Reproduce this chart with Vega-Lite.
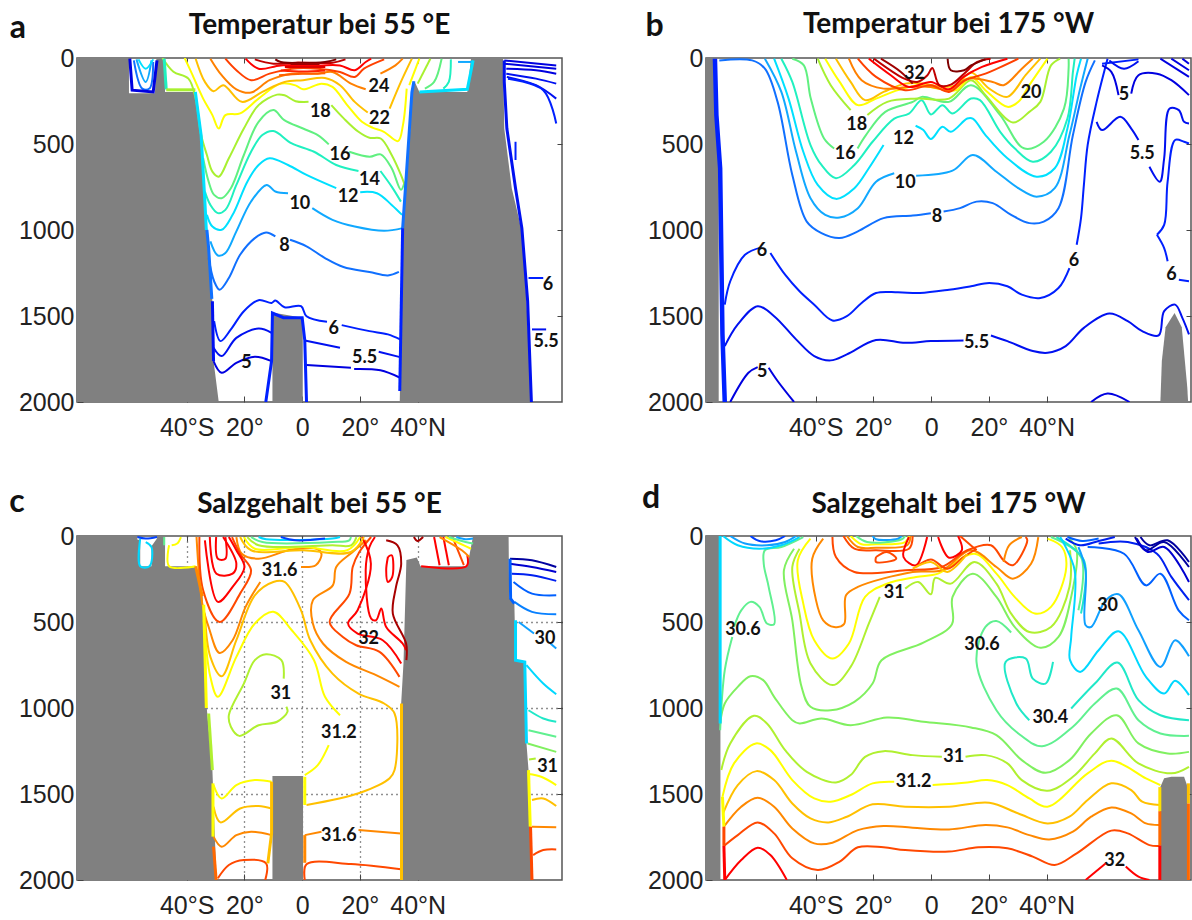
{"$schema":"https://vega.github.io/schema/vega-lite/v6.json","background":"white","padding":{"left":8,"top":9,"right":0,"bottom":0},"columns":2,"spacing":{"row":40,"column":77},"resolve":{"scale":{"color":"independent"}},"config":{"view":{"stroke":"#555","strokeWidth":1.5},"axis":{"labelFont":"Liberation Sans","labelFontSize":25,"labelColor":"#222","domain":false,"tickColor":"#444","title":null,"grid":false,"zindex":1},"title":{"font":"Lato","fontSize":28,"fontWeight":"bold","color":"#111","anchor":"middle","offset":-28},"text":{"font":"Lato"}},
"datasets":{
"g1":[{"s":"1","x":-78,"y":0},{"s":"1","x":-60,"y":0},{"s":"1","x":-60,"y":205},{"s":"1","x":-51,"y":205},{"s":"1","x":-50.5,"y":0},{"s":"1","x":-47.5,"y":0},{"s":"1","x":-47.5,"y":197},{"s":"1","x":-37,"y":197},{"s":"1","x":-35,"y":450},{"s":"1","x":-33.7,"y":835},{"s":"1","x":-32.4,"y":1105},{"s":"1","x":-31.1,"y":1414},{"s":"1","x":-30.7,"y":1762},{"s":"1","x":-28.9,"y":2000},{"s":"2","x":-10.3,"y":2000},{"s":"2","x":-10.3,"y":1480},{"s":"2","x":0.2,"y":1510},{"s":"2","x":0.2,"y":2000},{"s":"3","x":33.8,"y":2000},{"s":"3","x":34.8,"y":1028},{"s":"3","x":36.1,"y":700},{"s":"3","x":37.3,"y":450},{"s":"3","x":38.3,"y":150},{"s":"3","x":38.9,"y":135},{"s":"3","x":40.6,"y":197},{"s":"3","x":57.2,"y":197},{"s":"3","x":58.5,"y":0},{"s":"3","x":69.6,"y":0},{"s":"3","x":70,"y":410},{"s":"3","x":72.6,"y":757},{"s":"3","x":74.5,"y":892},{"s":"3","x":76.4,"y":1028},{"s":"3","x":77.7,"y":1414},{"s":"3","x":79.4,"y":2000}],
"g2":[{"s":"1","x":-78,"y":0},{"s":"1","x":-75,"y":0},{"s":"1","x":-74.4,"y":330},{"s":"1","x":-73.6,"y":500},{"s":"1","x":-73.6,"y":2000},{"s":"2","x":79.4,"y":2000},{"s":"2","x":79.9,"y":1762},{"s":"2","x":81.2,"y":1565},{"s":"2","x":84.3,"y":1483},{"s":"2","x":86.8,"y":1565},{"s":"2","x":88.7,"y":1913},{"s":"2","x":89,"y":2000}],
"g3":[{"s":"1","x":-78,"y":0},{"s":"1","x":-57.1,"y":0},{"s":"1","x":-57.1,"y":20},{"s":"1","x":-56.1,"y":25},{"s":"1","x":-56.1,"y":176},{"s":"1","x":-52.2,"y":176},{"s":"1","x":-52.2,"y":60},{"s":"1","x":-50.3,"y":15},{"s":"1","x":-50.3,"y":0},{"s":"1","x":-47.5,"y":0},{"s":"1","x":-47.5,"y":176},{"s":"1","x":-36.9,"y":176},{"s":"1","x":-34.5,"y":350},{"s":"1","x":-34,"y":490},{"s":"1","x":-33,"y":1010},{"s":"1","x":-31.1,"y":1360},{"s":"1","x":-29.7,"y":2000},{"s":"2","x":-10.3,"y":2000},{"s":"2","x":-10.3,"y":1396},{"s":"2","x":0.3,"y":1396},{"s":"2","x":0.3,"y":2000},{"s":"3","x":34.2,"y":2000},{"s":"3","x":34.2,"y":1000},{"s":"3","x":35.1,"y":737},{"s":"3","x":36.1,"y":140},{"s":"3","x":39.7,"y":125},{"s":"3","x":41,"y":176},{"s":"3","x":57.2,"y":176},{"s":"3","x":59.2,"y":0},{"s":"3","x":71.5,"y":0},{"s":"3","x":71.7,"y":360},{"s":"3","x":73.5,"y":393},{"s":"3","x":73.9,"y":722},{"s":"3","x":77.1,"y":732},{"s":"3","x":77.7,"y":1206},{"s":"3","x":78.4,"y":1361},{"s":"3","x":79.6,"y":2000}],
"g4":[{"s":"1","x":-78,"y":0},{"s":"1","x":-73,"y":0},{"s":"1","x":-73,"y":2000},{"s":"2","x":79.4,"y":2000},{"s":"2","x":79.4,"y":1458},{"s":"2","x":80.7,"y":1409},{"s":"2","x":83.2,"y":1400},{"s":"2","x":87.6,"y":1400},{"s":"2","x":88.6,"y":1448},{"s":"2","x":88.9,"y":2000}],
"l1":[
{"s":"8a","v":8,"x":-32.4,"y":1163},{"s":"8a","v":8,"x":-30.5,"y":1298},{"s":"8a","v":8,"x":-28.6,"y":1347},{"s":"8a","v":8,"x":-25.4,"y":1279},{"s":"8a","v":8,"x":-21.5,"y":1144},{"s":"8a","v":8,"x":-16.4,"y":1047},{"s":"8a","v":8,"x":-12.5,"y":1014},{"s":"8a","v":8,"x":-9.3,"y":1037},
{"s":"8b","v":8,"x":-4.2,"y":1057},{"s":"8b","v":8,"x":1.5,"y":1095},{"s":"8b","v":8,"x":7.9,"y":1163},{"s":"8b","v":8,"x":14.3,"y":1215},{"s":"8b","v":8,"x":23.3,"y":1244},{"s":"8b","v":8,"x":29.7,"y":1264},{"s":"8b","v":8,"x":33.5,"y":1244},
{"s":"10a","v":10,"x":-31.8,"y":1066},{"s":"10a","v":10,"x":-29.2,"y":1148},{"s":"10a","v":10,"x":-26.6,"y":1134},{"s":"10a","v":10,"x":-22.8,"y":1008},{"s":"10a","v":10,"x":-17.7,"y":834},{"s":"10a","v":10,"x":-12.3,"y":738},{"s":"10a","v":10,"x":-9.3,"y":776},{"s":"10a","v":10,"x":-4.9,"y":786},
{"s":"10b","v":10,"x":3.5,"y":873},{"s":"10b","v":10,"x":10.5,"y":941},{"s":"10b","v":10,"x":18.2,"y":980},{"s":"10b","v":10,"x":28.4,"y":1005},{"s":"10b","v":10,"x":34.8,"y":989},
{"s":"12a","v":12,"x":-33,"y":912},{"s":"12a","v":12,"x":-31.1,"y":980},{"s":"12a","v":12,"x":-27.9,"y":999},{"s":"12a","v":12,"x":-24.1,"y":912},{"s":"12a","v":12,"x":-19,"y":719},{"s":"12a","v":12,"x":-15.1,"y":622},{"s":"12a","v":12,"x":-11.3,"y":583},{"s":"12a","v":12,"x":-4.9,"y":622},{"s":"12a","v":12,"x":1.5,"y":680},{"s":"12a","v":12,"x":11.8,"y":757},
{"s":"12b","v":12,"x":20.1,"y":780},{"s":"12b","v":12,"x":25.9,"y":786},{"s":"12b","v":12,"x":31,"y":854},{"s":"12b","v":12,"x":34.6,"y":912},
{"s":"14a","v":14,"x":-33.7,"y":777},{"s":"14a","v":14,"x":-31.8,"y":854},{"s":"14a","v":14,"x":-29.2,"y":902},{"s":"14a","v":14,"x":-26.6,"y":883},{"s":"14a","v":14,"x":-22.8,"y":738},{"s":"14a","v":14,"x":-17.7,"y":545},{"s":"14a","v":14,"x":-13.8,"y":448},{"s":"14a","v":14,"x":-10,"y":425},{"s":"14a","v":14,"x":-3.6,"y":497},{"s":"14a","v":14,"x":4.1,"y":545},{"s":"14a","v":14,"x":11.8,"y":622},{"s":"14a","v":14,"x":19.5,"y":657},
{"s":"14b","v":14,"x":27.1,"y":657},{"s":"14b","v":14,"x":31,"y":748},{"s":"14b","v":14,"x":34.2,"y":835},
{"s":"16a","v":16,"x":-34.3,"y":583},{"s":"16a","v":16,"x":-32.4,"y":719},{"s":"16a","v":16,"x":-30.5,"y":796},{"s":"16a","v":16,"x":-27.9,"y":815},{"s":"16a","v":16,"x":-24.7,"y":757},{"s":"16a","v":16,"x":-20.2,"y":564},{"s":"16a","v":16,"x":-15.1,"y":371},{"s":"16a","v":16,"x":-10,"y":303},{"s":"16a","v":16,"x":-6.2,"y":361},{"s":"16a","v":16,"x":0.3,"y":410},{"s":"16a","v":16,"x":5.4,"y":448},{"s":"16a","v":16,"x":9.2,"y":502},
{"s":"16b","v":16,"x":16.3,"y":545},{"s":"16b","v":16,"x":23.4,"y":574},{"s":"16b","v":16,"x":27.2,"y":560},{"s":"16b","v":16,"x":31,"y":641},{"s":"16b","v":16,"x":34.2,"y":766},{"s":"16b","v":16,"x":35.5,"y":719},
{"s":"18a","v":18,"x":-48.4,"y":0},{"s":"18a","v":18,"x":-44.6,"y":80},{"s":"18a","v":18,"x":-39.4,"y":120},{"s":"18a","v":18,"x":-36.9,"y":236},{"s":"18a","v":18,"x":-35,"y":448},{"s":"18a","v":18,"x":-33,"y":564},{"s":"18a","v":18,"x":-31.1,"y":661},{"s":"18a","v":18,"x":-28.9,"y":690},{"s":"18a","v":18,"x":-25.4,"y":583},{"s":"18a","v":18,"x":-20.2,"y":410},{"s":"18a","v":18,"x":-15.1,"y":274},{"s":"18a","v":18,"x":-8.7,"y":213},{"s":"18a","v":18,"x":-6.1,"y":217},{"s":"18a","v":18,"x":-2.3,"y":251},{"s":"18a","v":18,"x":2.2,"y":255},
{"s":"18b","v":18,"x":10.1,"y":274},{"s":"18b","v":18,"x":14.4,"y":351},{"s":"18b","v":18,"x":19.5,"y":429},{"s":"18b","v":18,"x":23.3,"y":464},{"s":"18b","v":18,"x":27.2,"y":468},{"s":"18b","v":18,"x":31,"y":564},{"s":"18b","v":18,"x":34.2,"y":680},{"s":"18b","v":18,"x":35.9,"y":757},
{"s":"20a","v":20,"x":-40.7,"y":0},{"s":"20a","v":20,"x":-38.2,"y":91},{"s":"20a","v":20,"x":-34.3,"y":236},{"s":"20a","v":20,"x":-31.1,"y":332},{"s":"20a","v":20,"x":-28.9,"y":410},{"s":"20a","v":20,"x":-26.6,"y":332},{"s":"20a","v":20,"x":-21.5,"y":322},{"s":"20a","v":20,"x":-15.1,"y":236},{"s":"20a","v":20,"x":-7.4,"y":149},{"s":"20a","v":20,"x":-2.3,"y":159},{"s":"20a","v":20,"x":0.3,"y":182},{"s":"20a","v":20,"x":6.7,"y":149},{"s":"20a","v":20,"x":10.5,"y":168},{"s":"20a","v":20,"x":15.6,"y":274},{"s":"20a","v":20,"x":20.7,"y":371},{"s":"20a","v":20,"x":24.5,"y":406},{"s":"20a","v":20,"x":28.3,"y":429},{"s":"20a","v":20,"x":33.2,"y":483},{"s":"20a","v":20,"x":34.9,"y":390},{"s":"20a","v":20,"x":36.2,"y":178},
{"s":"22a","v":22,"x":-36.9,"y":4},{"s":"22a","v":22,"x":-33.7,"y":139},{"s":"22a","v":22,"x":-30.7,"y":193},{"s":"22a","v":22,"x":-27.3,"y":158},{"s":"22a","v":22,"x":-20.9,"y":255},{"s":"22a","v":22,"x":-13.8,"y":197},{"s":"22a","v":22,"x":-6.1,"y":139},{"s":"22a","v":22,"x":0.3,"y":129},{"s":"22a","v":22,"x":7.9,"y":116},{"s":"22a","v":22,"x":13.1,"y":158},{"s":"22a","v":22,"x":18.2,"y":255},{"s":"22a","v":22,"x":22.7,"y":317},
{"s":"22b","v":22,"x":30.3,"y":294},{"s":"22b","v":22,"x":34.2,"y":139},{"s":"22b","v":22,"x":38,"y":4},
{"s":"24a","v":24,"x":-31.8,"y":4},{"s":"24a","v":24,"x":-27.9,"y":100},{"s":"24a","v":24,"x":-22.8,"y":182},{"s":"24a","v":24,"x":-17.7,"y":201},{"s":"24a","v":24,"x":-11.3,"y":129},{"s":"24a","v":24,"x":-3.6,"y":91},{"s":"24a","v":24,"x":5.4,"y":91},{"s":"24a","v":24,"x":10.5,"y":81},{"s":"24a","v":24,"x":16.9,"y":149},{"s":"24a","v":24,"x":22,"y":182},
{"s":"24b","v":24,"x":27.1,"y":91},{"s":"24b","v":24,"x":32.3,"y":43},{"s":"24b","v":24,"x":34.8,"y":4},
{"s":"26a","v":26,"x":-26.6,"y":4},{"s":"26a","v":26,"x":-22.8,"y":71},{"s":"26a","v":26,"x":-17.7,"y":129},{"s":"26a","v":26,"x":-11.3,"y":91},{"s":"26a","v":26,"x":-3.6,"y":62},{"s":"26a","v":26,"x":5.4,"y":62},{"s":"26a","v":26,"x":13.1,"y":81},{"s":"26a","v":26,"x":18.2,"y":110},{"s":"26a","v":26,"x":21.4,"y":62},{"s":"26a","v":26,"x":28.4,"y":8},
{"s":"28a","v":28,"x":-19.6,"y":4},{"s":"28a","v":28,"x":-15.1,"y":62},{"s":"28a","v":28,"x":-7.4,"y":43},{"s":"28a","v":28,"x":5.4,"y":43},{"s":"28a","v":28,"x":13.1,"y":43},{"s":"28a","v":28,"x":18.2,"y":71},{"s":"28a","v":28,"x":22,"y":23},{"s":"28a","v":28,"x":23.9,"y":4},
{"s":"30a","v":30,"x":-16.4,"y":8},{"s":"30a","v":30,"x":-10,"y":33},{"s":"30a","v":30,"x":-2.3,"y":27},{"s":"30a","v":30,"x":10.5,"y":27},{"s":"30a","v":30,"x":15,"y":8},
{"s":"32a","v":32,"x":-9.3,"y":8},{"s":"32a","v":32,"x":-7.4,"y":23},{"s":"32a","v":32,"x":7.9,"y":23},{"s":"32a","v":32,"x":11.8,"y":8},
{"s":"27a","v":27,"x":-7.4,"y":72},{"s":"27a","v":27,"x":0.3,"y":78},{"s":"27a","v":27,"x":7.9,"y":72},{"s":"29a","v":29,"x":-6,"y":52},{"s":"29a","v":29,"x":8,"y":52},{"s":"25a","v":25,"x":-8,"y":100},{"s":"25a","v":25,"x":0,"y":92},{"s":"25a","v":25,"x":8,"y":88},{"s":"31a","v":31,"x":-4,"y":35},{"s":"31a","v":31,"x":6,"y":35},
{"s":"6a","v":6,"x":-30.5,"y":1530},{"s":"6a","v":6,"x":-28.3,"y":1646},{"s":"6a","v":6,"x":-24.7,"y":1578},{"s":"6a","v":6,"x":-20.2,"y":1472},{"s":"6a","v":6,"x":-15.1,"y":1408},{"s":"6a","v":6,"x":-10.6,"y":1424},{"s":"6a","v":6,"x":-9.3,"y":1410},{"s":"6a","v":6,"x":-6.1,"y":1449},{"s":"6a","v":6,"x":-0.4,"y":1443},{"s":"6a","v":6,"x":1.5,"y":1501},{"s":"6a","v":6,"x":8.6,"y":1534},
{"s":"6b","v":6,"x":13.7,"y":1553},{"s":"6b","v":6,"x":23.3,"y":1588},{"s":"6b","v":6,"x":29.7,"y":1607},{"s":"6b","v":6,"x":33.9,"y":1636},
{"s":"55a","v":5.5,"x":-30.7,"y":1685},{"s":"55a","v":5.5,"x":-27.9,"y":1733},{"s":"55a","v":5.5,"x":-22.8,"y":1627},{"s":"55a","v":5.5,"x":-15.1,"y":1573},{"s":"55a","v":5.5,"x":-10.6,"y":1598},
{"s":"55b","v":5.5,"x":0.9,"y":1642},{"s":"55b","v":5.5,"x":13.1,"y":1685},{"s":"55c","v":5.5,"x":26.5,"y":1708},{"s":"55c","v":5.5,"x":33.9,"y":1739},
{"s":"5a","v":5,"x":-30.7,"y":1762},{"s":"5a","v":5,"x":-27.9,"y":1830},{"s":"5a","v":5,"x":-22.8,"y":1772},{"s":"5a","v":5,"x":-16.4,"y":1737},{"s":"5a","v":5,"x":-10.6,"y":1762},
{"s":"5b","v":5,"x":1.5,"y":1785},{"s":"5b","v":5,"x":16.9,"y":1801},{"s":"5c","v":5,"x":18,"y":1808},{"s":"5c","v":5,"x":27.1,"y":1816},{"s":"5c","v":5,"x":33.9,"y":1859},
{"s":"n1","v":10,"x":-57.4,"y":8},{"s":"n1","v":10,"x":-54.2,"y":139},{"s":"n1","v":10,"x":-52.2,"y":14},
{"s":"n2","v":8,"x":-58.3,"y":14},{"s":"n2","v":8,"x":-55.4,"y":178},{"s":"n2","v":8,"x":-52.9,"y":178},{"s":"n2","v":8,"x":-51.6,"y":23},
{"s":"n3","v":12,"x":-56.7,"y":8},{"s":"n3","v":12,"x":-54.2,"y":62},{"s":"n3","v":12,"x":-51.6,"y":8},
{"s":"r1","v":18,"x":44.4,"y":4},{"s":"r1","v":18,"x":40,"y":149},
{"s":"r2","v":16,"x":48.3,"y":4},{"s":"r2","v":16,"x":45.7,"y":139},{"s":"r2","v":16,"x":42.5,"y":178},
{"s":"r3","v":14,"x":51.5,"y":8},{"s":"r3","v":14,"x":50.8,"y":139},{"s":"r3","v":14,"x":48.9,"y":178},
{"s":"r4","v":10,"x":54,"y":23},{"s":"r4","v":10,"x":59,"y":23},
{"s":"r5","v":20,"x":40.6,"y":4},{"s":"r5","v":20,"x":37.1,"y":158},
{"s":"f1","v":5,"x":70,"y":14},{"s":"f1","v":5,"x":88,"y":43},{"s":"f2","v":5,"x":70,"y":33},{"s":"f2","v":5,"x":88,"y":62},
{"s":"f3","v":5,"x":70.7,"y":62},{"s":"f3","v":5,"x":81,"y":71},{"s":"f3","v":5,"x":88,"y":91},
{"s":"f4","v":5.5,"x":70.7,"y":91},{"s":"f4","v":5.5,"x":81,"y":120},{"s":"f4","v":5.5,"x":88,"y":149},
{"s":"f5","v":5.5,"x":70.9,"y":110},{"s":"f5","v":5.5,"x":81,"y":158},{"s":"f5","v":5.5,"x":88,"y":236},
{"s":"f6","v":6,"x":71.3,"y":120},{"s":"f6","v":6,"x":83.5,"y":187},{"s":"f6","v":6,"x":88,"y":381},
{"s":"f7","v":6,"x":73.9,"y":487},{"s":"f7","v":6,"x":73.9,"y":593},
{"s":"f8","v":6,"x":78.4,"y":1279},{"s":"f8","v":6,"x":83.5,"y":1279},
{"s":"f9","v":5.5,"x":79.6,"y":1578},{"s":"f9","v":5.5,"x":84.5,"y":1578}
],
"w1":[
{"s":"a","v":6,"x":-12.6,"y":2000},{"s":"a","v":6,"x":-10.6,"y":1762},{"s":"a","v":6,"x":-10.3,"y":1483},{"s":"a","v":6,"x":-6.5,"y":1510},{"s":"a","v":6,"x":0,"y":1510},{"s":"a","v":6,"x":0.9,"y":1642},{"s":"a","v":6,"x":1.5,"y":2000},
{"s":"b","v":6,"x":34.8,"y":989},{"s":"b","v":6,"x":33.8,"y":1936},
{"s":"c","v":8,"x":34.8,"y":989},{"s":"c","v":8,"x":36,"y":700},{"s":"c","v":8,"x":37,"y":450},{"s":"c","v":8,"x":38,"y":200},{"s":"c","v":8,"x":38.7,"y":135},
{"s":"d","v":12,"x":-37,"y":197},{"s":"d","v":12,"x":-35,"y":450},{"s":"d","v":12,"x":-33.7,"y":835},{"s":"d","v":12,"x":-33.2,"y":1000},
{"s":"e","v":8,"x":-33,"y":1000},{"s":"e","v":8,"x":-32.4,"y":1105},{"s":"e","v":8,"x":-31.3,"y":1400},
{"s":"f","v":5.5,"x":-31.1,"y":1414},{"s":"f","v":5.5,"x":-30.7,"y":1762},
{"s":"g","v":14,"x":-47.8,"y":4},{"s":"g","v":14,"x":-47.1,"y":182},
{"s":"h","v":18,"x":-47.1,"y":185},{"s":"h","v":18,"x":-37,"y":185},
{"s":"i","v":5,"x":-59.7,"y":4},{"s":"i","v":5,"x":-58.9,"y":187},{"s":"i","v":5,"x":-51.6,"y":197},{"s":"i","v":5,"x":-50.3,"y":14},
{"s":"j","v":12,"x":40.6,"y":197},{"s":"j","v":12,"x":57.2,"y":182},{"s":"j","v":12,"x":59.2,"y":14},
{"s":"k","v":5.5,"x":70,"y":14},{"s":"k","v":5.5,"x":70,"y":139},{"s":"k","v":5.5,"x":70.9,"y":410},{"s":"k","v":5.5,"x":73.9,"y":757},{"s":"k","v":5.5,"x":76.1,"y":989},{"s":"k","v":5.5,"x":78.1,"y":1414},{"s":"k","v":5.5,"x":79.4,"y":2000}
],
"t1":[{"t":"24","x":26.6,"y":168},{"t":"22","x":26.8,"y":352},{"t":"18","x":6.3,"y":313},{"t":"16","x":13.1,"y":564},{"t":"14","x":23.3,"y":709},{"t":"12","x":15.9,"y":806},{"t":"10","x":-0.8,"y":848},{"t":"8","x":-6.1,"y":1092},{"t":"6","x":10.9,"y":1575},{"t":"5.5","x":21.6,"y":1743},{"t":"5","x":-19.3,"y":1772},{"t":"6","x":85.1,"y":1318},{"t":"5.5","x":84.5,"y":1652}],
"p1":[{"t":"a","x":-98.5,"y":-175}],
"l2":[
{"s":"8","v":8,"x":-73.4,"y":14},{"s":"8","v":8,"x":-62,"y":14},{"s":"8","v":8,"x":-57.6,"y":62},{"s":"8","v":8,"x":-53.2,"y":255},{"s":"8","v":8,"x":-48.1,"y":680},{"s":"8","v":8,"x":-43.1,"y":951},{"s":"8","v":8,"x":-38,"y":1018},{"s":"8","v":8,"x":-31.7,"y":1047},{"s":"8","v":8,"x":-25.4,"y":1008},{"s":"8","v":8,"x":-16.5,"y":931},{"s":"8","v":8,"x":-6.4,"y":916},{"s":"8","v":8,"x":-0.1,"y":902},
{"s":"8b","v":8,"x":4.3,"y":893},{"s":"8b","v":8,"x":10,"y":873},{"s":"8b","v":8,"x":15.7,"y":835},{"s":"8b","v":8,"x":21.3,"y":844},{"s":"8b","v":8,"x":27.7,"y":912},{"s":"8b","v":8,"x":34,"y":960},{"s":"8b","v":8,"x":39,"y":951},{"s":"8b","v":8,"x":44.1,"y":873},{"s":"8b","v":8,"x":49.1,"y":448},{"s":"8b","v":8,"x":53.5,"y":139},{"s":"8b","v":8,"x":56.7,"y":14},
{"s":"10","v":10,"x":-57.6,"y":4},{"s":"10","v":10,"x":-51.9,"y":197},{"s":"10","v":10,"x":-46.8,"y":545},{"s":"10","v":10,"x":-41.8,"y":815},{"s":"10","v":10,"x":-36.7,"y":912},{"s":"10","v":10,"x":-31.7,"y":927},{"s":"10","v":10,"x":-25.4,"y":873},{"s":"10","v":10,"x":-19.1,"y":719},{"s":"10","v":10,"x":-12.8,"y":670},
{"s":"10b","v":10,"x":-5.2,"y":684},{"s":"10b","v":10,"x":7.4,"y":655},{"s":"10b","v":10,"x":14.4,"y":564},{"s":"10b","v":10,"x":22.6,"y":661},{"s":"10b","v":10,"x":30.2,"y":757},{"s":"10b","v":10,"x":36.5,"y":806},{"s":"10b","v":10,"x":42.8,"y":757},{"s":"10b","v":10,"x":47.9,"y":448},{"s":"10b","v":10,"x":51.6,"y":178},{"s":"10b","v":10,"x":54.2,"y":4},
{"s":"12","v":12,"x":-54.4,"y":4},{"s":"12","v":12,"x":-49.4,"y":236},{"s":"12","v":12,"x":-44.3,"y":545},{"s":"12","v":12,"x":-39.3,"y":738},{"s":"12","v":12,"x":-33,"y":819},{"s":"12","v":12,"x":-26.6,"y":757},{"s":"12","v":12,"x":-21.6,"y":641},{"s":"12","v":12,"x":-16.5,"y":506},
{"s":"12b","v":12,"x":-5.4,"y":394},{"s":"12b","v":12,"x":-2.7,"y":419},{"s":"12b","v":12,"x":-0.1,"y":471},{"s":"12b","v":12,"x":3.9,"y":400},{"s":"12b","v":12,"x":6.8,"y":429},{"s":"12b","v":12,"x":12.5,"y":352},{"s":"12b","v":12,"x":14.4,"y":352},{"s":"12b","v":12,"x":18.8,"y":448},{"s":"12b","v":12,"x":26.4,"y":583},{"s":"12b","v":12,"x":36.5,"y":690},{"s":"12b","v":12,"x":42.8,"y":641},{"s":"12b","v":12,"x":47.2,"y":410},{"s":"12b","v":12,"x":50.4,"y":100},{"s":"12b","v":12,"x":51.9,"y":4},
{"s":"14","v":14,"x":-51.9,"y":4},{"s":"14","v":14,"x":-48.1,"y":139},{"s":"14","v":14,"x":-41.8,"y":506},{"s":"14","v":14,"x":-38,"y":622},{"s":"14","v":14,"x":-33,"y":699},{"s":"14","v":14,"x":-26.6,"y":622},{"s":"14","v":14,"x":-20.3,"y":487},{"s":"14","v":14,"x":-12.8,"y":352},{"s":"14","v":14,"x":-7.7,"y":323},{"s":"14","v":14,"x":-3.3,"y":245},{"s":"14","v":14,"x":-0.1,"y":328},{"s":"14","v":14,"x":3.9,"y":274},{"s":"14","v":14,"x":7.4,"y":323},{"s":"14","v":14,"x":13.8,"y":236},{"s":"14","v":14,"x":16.9,"y":245},{"s":"14","v":14,"x":23.9,"y":429},{"s":"14","v":14,"x":28.9,"y":525},{"s":"14","v":14,"x":35.2,"y":603},{"s":"14","v":14,"x":41.5,"y":545},{"s":"14","v":14,"x":47.2,"y":352},{"s":"14","v":14,"x":49.1,"y":81},{"s":"14","v":14,"x":49.7,"y":4},
{"s":"16","v":16,"x":-48.1,"y":4},{"s":"16","v":16,"x":-44.1,"y":43},{"s":"16","v":16,"x":-41.7,"y":236},{"s":"16","v":16,"x":-37.1,"y":468},{"s":"16","v":16,"x":-33.6,"y":526},
{"s":"16b","v":16,"x":-25.5,"y":526},{"s":"16b","v":16,"x":-22.6,"y":448},{"s":"16b","v":16,"x":-15.9,"y":313},{"s":"16b","v":16,"x":-6.4,"y":255},{"s":"16b","v":16,"x":-3.3,"y":226},{"s":"16b","v":16,"x":6.2,"y":255},{"s":"16b","v":16,"x":13.8,"y":158},{"s":"16b","v":16,"x":23.9,"y":332},{"s":"16b","v":16,"x":32.1,"y":525},{"s":"16b","v":16,"x":39,"y":487},{"s":"16b","v":16,"x":46,"y":294},{"s":"16b","v":16,"x":47.6,"y":62},{"s":"16b","v":16,"x":47.6,"y":4},
{"s":"18","v":18,"x":-39.3,"y":4},{"s":"18","v":18,"x":-34.8,"y":158},{"s":"18","v":18,"x":-27.9,"y":303},
{"s":"18b","v":18,"x":-22.1,"y":332},{"s":"18b","v":18,"x":-15.2,"y":255},{"s":"18b","v":18,"x":-4.8,"y":236},{"s":"18b","v":18,"x":6.2,"y":236},{"s":"18b","v":18,"x":13.8,"y":129},{"s":"18b","v":18,"x":18.8,"y":216},{"s":"18b","v":18,"x":28.3,"y":375},{"s":"18b","v":18,"x":34,"y":313},{"s":"18b","v":18,"x":37.8,"y":255},{"s":"18b","v":18,"x":41.5,"y":43},{"s":"18b","v":18,"x":44.7,"y":4},
{"s":"20","v":20,"x":-36.7,"y":4},{"s":"20","v":20,"x":-31.7,"y":139},{"s":"20","v":20,"x":-25.4,"y":274},{"s":"20","v":20,"x":-19.1,"y":236},{"s":"20","v":20,"x":-11.5,"y":187},{"s":"20","v":20,"x":-3.9,"y":158},{"s":"20","v":20,"x":2.4,"y":178},{"s":"20","v":20,"x":8.7,"y":187},{"s":"20","v":20,"x":13.8,"y":110},{"s":"20","v":20,"x":18.8,"y":187},{"s":"20","v":20,"x":26.4,"y":284},{"s":"20","v":20,"x":30.2,"y":255},{"s":"20","v":20,"x":34,"y":158},{"s":"20","v":20,"x":40.3,"y":4},
{"s":"22","v":22,"x":-33,"y":4},{"s":"22","v":22,"x":-27.9,"y":139},{"s":"22","v":22,"x":-22.9,"y":245},{"s":"22","v":22,"x":-16.5,"y":197},{"s":"22","v":22,"x":-9,"y":149},{"s":"22","v":22,"x":-2.7,"y":149},{"s":"22","v":22,"x":3.7,"y":168},{"s":"22","v":22,"x":8.7,"y":158},{"s":"22","v":22,"x":13.8,"y":85},{"s":"22","v":22,"x":20.1,"y":178},{"s":"22","v":22,"x":26.4,"y":226},{"s":"22","v":22,"x":32.7,"y":100},{"s":"22","v":22,"x":37.8,"y":4},
{"s":"24","v":24,"x":-28.5,"y":4},{"s":"24","v":24,"x":-24.1,"y":129},{"s":"24","v":24,"x":-16.5,"y":178},{"s":"24","v":24,"x":-7.7,"y":168},{"s":"24","v":24,"x":-0.1,"y":168},{"s":"24","v":24,"x":6.2,"y":187},{"s":"24","v":24,"x":12.5,"y":120},{"s":"24","v":24,"x":21.3,"y":139},{"s":"24","v":24,"x":25.1,"y":158},{"s":"24","v":24,"x":31.4,"y":62},{"s":"24","v":24,"x":35.2,"y":4},
{"s":"26","v":26,"x":-25.4,"y":4},{"s":"26","v":26,"x":-19.1,"y":110},{"s":"26","v":26,"x":-9,"y":187},{"s":"26","v":26,"x":-0.1,"y":158},{"s":"26","v":26,"x":6.2,"y":197},{"s":"26","v":26,"x":11.9,"y":129},{"s":"26","v":26,"x":18.8,"y":91},{"s":"26","v":26,"x":30.2,"y":4},
{"s":"28","v":28,"x":-21.6,"y":4},{"s":"28","v":28,"x":-14,"y":100},{"s":"28","v":28,"x":-7.7,"y":168},{"s":"28","v":28,"x":-0.1,"y":139},{"s":"28","v":28,"x":6.2,"y":182},{"s":"28","v":28,"x":11.2,"y":110},{"s":"28","v":28,"x":17.6,"y":52},{"s":"28","v":28,"x":26.4,"y":4},
{"s":"30","v":30,"x":-19.8,"y":4},{"s":"30","v":30,"x":-9.3,"y":120},{"s":"30","v":30,"x":-4.8,"y":139},{"s":"30","v":30,"x":-1.3,"y":100},{"s":"30","v":30,"x":0.4,"y":58},{"s":"30","v":30,"x":2.8,"y":158},{"s":"30","v":30,"x":6.8,"y":155},{"s":"30","v":30,"x":11.4,"y":91},{"s":"30","v":30,"x":16,"y":23},{"s":"30","v":30,"x":20.6,"y":4},
{"s":"31","v":31,"x":-17.4,"y":4},{"s":"31","v":31,"x":-10.5,"y":81},{"s":"31","v":31,"x":-6.4,"y":149},
{"s":"32","v":32,"x":5.7,"y":4},{"s":"32","v":32,"x":6.8,"y":71},{"s":"32","v":32,"x":11.4,"y":71},{"s":"32","v":32,"x":13.8,"y":43},{"s":"32","v":32,"x":18.8,"y":8},
{"s":"6","v":6,"x":-71.5,"y":1434},{"s":"6","v":6,"x":-69.6,"y":1298},{"s":"6","v":6,"x":-64.5,"y":1144},{"s":"6","v":6,"x":-58.8,"y":1101},{"s":"6b","v":6,"x":-55.7,"y":1134},{"s":"6b","v":6,"x":-50.6,"y":1260},{"s":"6b","v":6,"x":-45.6,"y":1356},{"s":"6b","v":6,"x":-40.5,"y":1434},{"s":"6b","v":6,"x":-34.2,"y":1526},{"s":"6b","v":6,"x":-29.2,"y":1501},{"s":"6b","v":6,"x":-24.1,"y":1424},{"s":"6b","v":6,"x":-19.1,"y":1366},{"s":"6b","v":6,"x":-11.5,"y":1362},{"s":"6b","v":6,"x":-3.9,"y":1366},{"s":"6b","v":6,"x":6.2,"y":1347},{"s":"6b","v":6,"x":13.8,"y":1327},{"s":"6b","v":6,"x":20.1,"y":1308},{"s":"6b","v":6,"x":26.4,"y":1327},{"s":"6b","v":6,"x":31.4,"y":1376},{"s":"6b","v":6,"x":37.8,"y":1395},{"s":"6b","v":6,"x":44.1,"y":1337},{"s":"6b","v":6,"x":47.9,"y":1221},
{"s":"6c","v":6,"x":50.4,"y":1086},{"s":"6c","v":6,"x":51.9,"y":931},{"s":"6c","v":6,"x":52.9,"y":738},{"s":"6c","v":6,"x":54.2,"y":506},{"s":"6c","v":6,"x":57.3,"y":255},{"s":"6c","v":6,"x":61.1,"y":4},
{"s":"55","v":5.5,"x":-71.5,"y":1675},{"s":"55","v":5.5,"x":-67,"y":1549},{"s":"55","v":5.5,"x":-60.1,"y":1443},{"s":"55","v":5.5,"x":-54.4,"y":1501},{"s":"55","v":5.5,"x":-46.8,"y":1636},{"s":"55","v":5.5,"x":-40.5,"y":1733},{"s":"55","v":5.5,"x":-34.8,"y":1758},{"s":"55","v":5.5,"x":-29.2,"y":1723},{"s":"55","v":5.5,"x":-19.1,"y":1640},{"s":"55","v":5.5,"x":-9,"y":1656},{"s":"55","v":5.5,"x":-0.1,"y":1646},{"s":"55","v":5.5,"x":11.2,"y":1642},
{"s":"55b","v":5.5,"x":20.7,"y":1613},{"s":"55b","v":5.5,"x":26.4,"y":1646},{"s":"55b","v":5.5,"x":35.2,"y":1704},{"s":"55b","v":5.5,"x":40.3,"y":1714},{"s":"55b","v":5.5,"x":46.6,"y":1675},{"s":"55b","v":5.5,"x":52.9,"y":1569},{"s":"55b","v":5.5,"x":61.7,"y":1486},{"s":"55b","v":5.5,"x":68.1,"y":1530},{"s":"55b","v":5.5,"x":73.1,"y":1588},{"s":"55b","v":5.5,"x":78.8,"y":1613},{"s":"55b","v":5.5,"x":80.7,"y":1472},{"s":"55b","v":5.5,"x":84.5,"y":1434},{"s":"55b","v":5.5,"x":87,"y":1511},{"s":"55b","v":5.5,"x":89.3,"y":1607},
{"s":"5","v":5,"x":-69.6,"y":2000},{"s":"5","v":5,"x":-63.3,"y":1830},{"s":"5","v":5,"x":-60.1,"y":1797},{"s":"5b","v":5,"x":-56.3,"y":1801},{"s":"5b","v":5,"x":-53.2,"y":1878},{"s":"5b","v":5,"x":-47.5,"y":2000},
{"s":"5c","v":5,"x":55.4,"y":2000},{"s":"5c","v":5,"x":61.1,"y":1951},{"s":"5c","v":5,"x":68.7,"y":2000},
{"s":"5d","v":5,"x":59.2,"y":43},{"s":"5d","v":5,"x":62.4,"y":81},{"s":"5d","v":5,"x":64.9,"y":216},
{"s":"5e","v":5,"x":69.3,"y":207},{"s":"5e","v":5,"x":71.8,"y":100},{"s":"5e","v":5,"x":78.2,"y":91},{"s":"5e","v":5,"x":83.2,"y":129},{"s":"5e","v":5,"x":89.3,"y":216},
{"s":"55c","v":5.5,"x":57.3,"y":371},{"s":"55c","v":5.5,"x":59.2,"y":419},{"s":"55c","v":5.5,"x":65.5,"y":342},{"s":"55c","v":5.5,"x":69.3,"y":410},{"s":"55c","v":5.5,"x":71.8,"y":477},
{"s":"55d","v":5.5,"x":75.6,"y":632},{"s":"55d","v":5.5,"x":79.2,"y":719},{"s":"55d","v":5.5,"x":80.7,"y":583},{"s":"55d","v":5.5,"x":82.6,"y":294},{"s":"55d","v":5.5,"x":85.8,"y":303},{"s":"55d","v":5.5,"x":87.6,"y":371},{"s":"55d","v":5.5,"x":89.3,"y":381},
{"s":"6d","v":6,"x":78.2,"y":1028},{"s":"6d","v":6,"x":80.7,"y":970},{"s":"6d","v":6,"x":81.9,"y":719},{"s":"6d","v":6,"x":84.5,"y":477},{"s":"6d","v":6,"x":87.6,"y":487},{"s":"6d","v":6,"x":89.3,"y":497},
{"s":"6e","v":6,"x":78.2,"y":1028},{"s":"6e","v":6,"x":80.7,"y":1105},{"s":"6e","v":6,"x":81.9,"y":1182},
{"s":"6f","v":6,"x":85.8,"y":1289},{"s":"6f","v":6,"x":89.3,"y":1298},
{"s":"t1","v":6,"x":59.2,"y":33},{"s":"t1","v":6,"x":71.8,"y":8},
{"s":"t2","v":5.5,"x":61.7,"y":14},{"s":"t2","v":5.5,"x":66.8,"y":62},{"s":"t2","v":5.5,"x":71.8,"y":19},
{"s":"t3","v":5,"x":79.4,"y":4},{"s":"t3","v":5,"x":89.3,"y":110},{"s":"t4","v":5,"x":83.2,"y":4},{"s":"t4","v":5,"x":89.3,"y":71},{"s":"t5","v":5,"x":87,"y":4},{"s":"t5","v":5,"x":89.3,"y":33}
],
"w2":[{"s":"a","v":6,"x":-74.9,"y":4},{"s":"a","v":6,"x":-74.4,"y":332},{"s":"a","v":6,"x":-73.1,"y":641},{"s":"a","v":6,"x":-72.3,"y":1607},{"s":"a","v":6,"x":-71.5,"y":2000}],
"t2":[{"t":"32","x":-5.8,"y":91},{"t":"20","x":34.6,"y":201},{"t":"18","x":-25.8,"y":390},{"t":"16","x":-29.8,"y":560},{"t":"12","x":-9.6,"y":471},{"t":"10","x":-9,"y":728},{"t":"8","x":2,"y":922},{"t":"6","x":-58.6,"y":1124},{"t":"6","x":49.5,"y":1178},{"t":"5","x":66.8,"y":216},{"t":"5.5","x":73.1,"y":560},{"t":"6","x":83.2,"y":1260},{"t":"5.5","x":15.7,"y":1656},{"t":"5","x":-58.5,"y":1826}],
"p2":[{"t":"b","x":-95.8,"y":-186}],
"l3":[
{"s":"a","v":31,"x":-6.4,"y":829},{"s":"a","v":31,"x":-7.2,"y":722},{"s":"a","v":31,"x":-12.5,"y":687},{"s":"a","v":31,"x":-16.4,"y":722},{"s":"a","v":31,"x":-20.2,"y":858},{"s":"a","v":31,"x":-25.4,"y":1042},{"s":"a","v":31,"x":-24.7,"y":1109},{"s":"a","v":31,"x":-21.8,"y":1162},{"s":"a","v":31,"x":-15.1,"y":1100},{"s":"a","v":31,"x":-8.7,"y":1080},{"s":"a","v":31,"x":-5.1,"y":1022},{"s":"a","v":31,"x":-5.5,"y":993},
{"s":"b","v":31.2,"x":-34.1,"y":490},{"s":"b","v":31.2,"x":-31.8,"y":819},{"s":"b","v":31.2,"x":-29.2,"y":935},{"s":"b","v":31.2,"x":-22.8,"y":703},{"s":"b","v":31.2,"x":-16.4,"y":509},{"s":"b","v":31.2,"x":-10,"y":441},{"s":"b","v":31.2,"x":-3.6,"y":548},{"s":"b","v":31.2,"x":4.1,"y":722},{"s":"b","v":31.2,"x":7.9,"y":935},{"s":"b","v":31.2,"x":13.1,"y":1042},
{"s":"c","v":31.2,"x":9.2,"y":1216},{"s":"c","v":31.2,"x":5.4,"y":1332},{"s":"c","v":31.2,"x":0.9,"y":1390},
{"s":"d","v":31.2,"x":-30.7,"y":1448},{"s":"d","v":31.2,"x":-27.9,"y":1526},{"s":"d","v":31.2,"x":-22.8,"y":1448},{"s":"d","v":31.2,"x":-16.4,"y":1419},{"s":"d","v":31.2,"x":-10.6,"y":1429},
{"s":"e","v":31.4,"x":-33.7,"y":451},{"s":"e","v":31.4,"x":-31.8,"y":703},{"s":"e","v":31.4,"x":-27.9,"y":815},{"s":"e","v":31.4,"x":-22.8,"y":606},{"s":"e","v":31.4,"x":-16.4,"y":345},{"s":"e","v":31.4,"x":-10,"y":267},{"s":"e","v":31.4,"x":-6.1,"y":267},{"s":"e","v":31.4,"x":-0.4,"y":432},{"s":"e","v":31.4,"x":2.8,"y":606},{"s":"e","v":31.4,"x":10.5,"y":800},{"s":"e","v":31.4,"x":19.5,"y":916},{"s":"e","v":31.4,"x":28.4,"y":974},{"s":"e","v":31.4,"x":32,"y":1032},{"s":"e","v":31.4,"x":32,"y":1361},{"s":"e","v":31.4,"x":30.3,"y":1409},{"s":"e","v":31.4,"x":20.1,"y":1493},{"s":"e","v":31.4,"x":1.5,"y":1564},
{"s":"f","v":31.4,"x":-30.7,"y":1574},{"s":"f","v":31.4,"x":-28.3,"y":1665},{"s":"f","v":31.4,"x":-21.5,"y":1584},{"s":"f","v":31.4,"x":-15.1,"y":1570},{"s":"f","v":31.4,"x":-10.6,"y":1584},
{"s":"g","v":31.6,"x":-36.6,"y":6},{"s":"g","v":31.6,"x":-34.6,"y":393},{"s":"g","v":31.6,"x":-32.4,"y":529},{"s":"g","v":31.6,"x":-28.6,"y":680},{"s":"g","v":31.6,"x":-24.1,"y":606},{"s":"g","v":31.6,"x":-19.6,"y":412},{"s":"g","v":31.6,"x":-14.5,"y":267},
{"s":"h","v":31.6,"x":-22.8,"y":6},{"s":"h","v":31.6,"x":-20.9,"y":103},{"s":"h","v":31.6,"x":-15.1,"y":132},{"s":"h","v":31.6,"x":-3.6,"y":79},{"s":"h","v":31.6,"x":5.4,"y":77},{"s":"h","v":31.6,"x":6.7,"y":106},{"s":"h","v":31.6,"x":4.7,"y":170},{"s":"h","v":31.6,"x":-0.4,"y":180},
{"s":"i","v":31.6,"x":22.2,"y":25},{"s":"i","v":31.6,"x":17.5,"y":93},{"s":"i","v":31.6,"x":11.8,"y":180},{"s":"i","v":31.6,"x":10.6,"y":287},{"s":"i","v":31.6,"x":3.7,"y":374},{"s":"i","v":31.6,"x":3.7,"y":509},{"s":"i","v":31.6,"x":7.2,"y":625},{"s":"i","v":31.6,"x":15.2,"y":732},{"s":"i","v":31.6,"x":25.6,"y":809},{"s":"i","v":31.6,"x":33.7,"y":877},
{"s":"j","v":31.8,"x":23.9,"y":6},{"s":"j","v":31.8,"x":19.8,"y":93},{"s":"j","v":31.8,"x":17.5,"y":180},{"s":"j","v":31.8,"x":16.4,"y":335},{"s":"j","v":31.8,"x":9.5,"y":500},{"s":"j","v":31.8,"x":14.1,"y":587},{"s":"j","v":31.8,"x":18.7,"y":635},{"s":"j","v":31.8,"x":26.8,"y":674},{"s":"j","v":31.8,"x":33.7,"y":819},
{"s":"k","v":31.8,"x":-35.6,"y":6},{"s":"k","v":31.8,"x":-34.3,"y":316},{"s":"k","v":31.8,"x":-28.6,"y":500},{"s":"k","v":31.8,"x":-21.5,"y":335},{"s":"k","v":31.8,"x":-17.7,"y":199},{"s":"k","v":31.8,"x":-21.5,"y":103},{"s":"k","v":31.8,"x":-24.3,"y":6},
{"s":"l","v":32,"x":-33.7,"y":25},{"s":"l","v":32,"x":-29.2,"y":383},{"s":"l","v":32,"x":-24.1,"y":296},{"s":"l","v":32,"x":-20,"y":180},{"s":"l","v":32,"x":-22.8,"y":83},{"s":"l","v":32,"x":-25.4,"y":6},
{"s":"m","v":32,"x":-32,"y":6},{"s":"m","v":32,"x":-29.7,"y":219},{"s":"m","v":32,"x":-24.1,"y":219},{"s":"m","v":32,"x":-22.8,"y":161},{"s":"m","v":32,"x":-27.4,"y":6},
{"s":"n","v":32,"x":-29.8,"y":6},{"s":"n","v":32,"x":-29.2,"y":132},{"s":"n","v":32,"x":-26.6,"y":132},{"s":"n","v":32,"x":-26.6,"y":6},
{"s":"o","v":32,"x":20.7,"y":6},{"s":"o","v":32,"x":23.8,"y":161},{"s":"o","v":32,"x":19.2,"y":432},{"s":"o","v":32,"x":15.9,"y":509},{"s":"o","v":32,"x":19.2,"y":567},{"s":"o","v":32,"x":27.9,"y":606},{"s":"o","v":32,"x":34.3,"y":741},
{"s":"p","v":32,"x":25.2,"y":6},{"s":"p","v":32,"x":23.3,"y":64},{"s":"p","v":32,"x":22,"y":199},{"s":"p","v":32,"x":23.9,"y":480},{"s":"p","v":32,"x":25.6,"y":490},{"s":"p","v":32,"x":27.4,"y":422},{"s":"p","v":32,"x":29.1,"y":529},{"s":"p","v":32,"x":34.8,"y":625},{"s":"p","v":32,"x":36,"y":664},
{"s":"q","v":32.2,"x":29.1,"y":25},{"s":"q","v":32.2,"x":33,"y":54},{"s":"q","v":32.2,"x":34.3,"y":161},{"s":"q","v":32.2,"x":32.5,"y":296},{"s":"q","v":32.2,"x":31.4,"y":451},{"s":"q","v":32.2,"x":36,"y":625},{"s":"q","v":32.2,"x":36.1,"y":722},
{"s":"r","v":32,"x":29.7,"y":122},{"s":"r","v":32,"x":31,"y":112},{"s":"r","v":32,"x":31.2,"y":238},{"s":"r","v":32,"x":29.7,"y":267},{"s":"r","v":32,"x":29.1,"y":199},{"s":"r","v":32,"x":29.7,"y":122},
{"s":"s","v":32.2,"x":38.7,"y":6},{"s":"s","v":32.2,"x":39.9,"y":29},{"s":"s","v":32.2,"x":41.9,"y":6},
{"s":"t","v":31.4,"x":-21.5,"y":6},{"s":"t","v":31.4,"x":-17.7,"y":83},{"s":"t","v":31.4,"x":0.3,"y":83},{"s":"t","v":31.4,"x":16.9,"y":93},{"s":"t","v":31.4,"x":21.4,"y":6},
{"s":"u","v":31.2,"x":-20.2,"y":6},{"s":"u","v":31.2,"x":-16.4,"y":74},{"s":"u","v":31.2,"x":0.3,"y":64},{"s":"u","v":31.2,"x":15.6,"y":83},{"s":"u","v":31.2,"x":20.1,"y":6},
{"s":"v","v":31,"x":-19,"y":6},{"s":"v","v":31,"x":-15.1,"y":54},{"s":"v","v":31,"x":10.5,"y":54},{"s":"v","v":31,"x":16.9,"y":54},{"s":"v","v":31,"x":18.8,"y":6},
{"s":"w","v":30.6,"x":-17.7,"y":6},{"s":"w","v":30.6,"x":-13.8,"y":35},{"s":"w","v":30.6,"x":10.5,"y":35},{"s":"w","v":30.6,"x":16.3,"y":25},{"s":"w","v":30.6,"x":16.9,"y":6},
{"s":"x","v":30.2,"x":-15.1,"y":6},{"s":"x","v":30.2,"x":-12.5,"y":19},{"s":"x","v":30.2,"x":10.5,"y":15},{"s":"x","v":30.2,"x":13.1,"y":6},
{"s":"y","v":29.5,"x":-7.4,"y":6},{"s":"y","v":29.5,"x":-2.3,"y":25},{"s":"y","v":29.5,"x":7.9,"y":15},
{"s":"z1","v":32,"x":41.2,"y":176},{"s":"z1","v":32,"x":56.9,"y":176},{"s":"z1","v":32,"x":57.2,"y":112},
{"s":"z2","v":32,"x":45.7,"y":6},{"s":"z2","v":32,"x":47.6,"y":170},{"s":"z3","v":32,"x":48.9,"y":6},{"s":"z3","v":32,"x":50.8,"y":170},{"s":"z4","v":31.8,"x":52.1,"y":6},{"s":"z4","v":31.8,"x":56,"y":170},
{"s":"z5","v":31.6,"x":47.6,"y":6},{"s":"z5","v":31.6,"x":55.3,"y":83},{"s":"z5","v":31.6,"x":57.9,"y":122},
{"s":"z6","v":31.2,"x":49.6,"y":6},{"s":"z6","v":31.2,"x":56,"y":54},{"s":"z6","v":31.2,"x":58.5,"y":74},
{"s":"z7","v":30.6,"x":50.8,"y":6},{"s":"z7","v":30.6,"x":56.6,"y":35},{"s":"z7","v":30.6,"x":59.2,"y":44},
{"s":"z8","v":30,"x":53.4,"y":6},{"s":"z8","v":30,"x":56.6,"y":19},{"s":"z8","v":30,"x":59.2,"y":15},
{"s":"y1","v":30.2,"x":-56.1,"y":15},{"s":"y1","v":30.2,"x":-56.1,"y":176},{"s":"y1","v":30.2,"x":-52.9,"y":176},{"s":"y1","v":30.2,"x":-52.2,"y":64},{"s":"y1","v":30.2,"x":-54.2,"y":35},
{"s":"y2","v":29.5,"x":-57.1,"y":6},{"s":"y2","v":29.5,"x":-54.2,"y":15},{"s":"y2","v":29.5,"x":-50.3,"y":6},
{"s":"y3","v":30.6,"x":-47.8,"y":6},{"s":"y3","v":30.6,"x":-47.8,"y":54},
{"s":"y4","v":31.2,"x":-46.1,"y":54},{"s":"y4","v":31.2,"x":-46.1,"y":176},{"s":"y4","v":31.2,"x":-36.9,"y":176},
{"s":"y5","v":31.2,"x":-42,"y":6},{"s":"y5","v":31.2,"x":-43.3,"y":44},{"s":"y5","v":31.2,"x":-45.2,"y":54},
{"s":"x1","v":31.6,"x":-30.7,"y":1748},{"s":"x1","v":31.6,"x":-27.9,"y":1806},{"s":"x1","v":31.6,"x":-22.8,"y":1739},{"s":"x1","v":31.6,"x":-17.7,"y":1719},{"s":"x1","v":31.6,"x":-10.6,"y":1739},
{"s":"x2","v":31.8,"x":-29.2,"y":1990},{"s":"x2","v":31.8,"x":-25.4,"y":1913},{"s":"x2","v":31.8,"x":-20.2,"y":1884},{"s":"x2","v":31.8,"x":-12.5,"y":1903},{"s":"x2","v":31.8,"x":-12.8,"y":2000},
{"s":"x3","v":31.6,"x":0.9,"y":1739},{"s":"x3","v":31.6,"x":6.7,"y":1719},{"s":"x4","v":31.6,"x":19.5,"y":1710},{"s":"x4","v":31.6,"x":34.2,"y":1729},
{"s":"x5","v":31.8,"x":0.9,"y":2000},{"s":"x5","v":31.8,"x":1.5,"y":1909},{"s":"x5","v":31.8,"x":16.9,"y":1907},{"s":"x5","v":31.8,"x":34.2,"y":1938},
{"s":"v1","v":29,"x":72,"y":132},{"s":"v1","v":29,"x":79.6,"y":141},{"s":"v1","v":29,"x":88,"y":180},
{"s":"v2","v":29.2,"x":72,"y":161},{"s":"v2","v":29.2,"x":79.6,"y":180},{"s":"v2","v":29.2,"x":88,"y":209},
{"s":"v3","v":29.4,"x":72.6,"y":219},{"s":"v3","v":29.4,"x":79.6,"y":228},{"s":"v3","v":29.4,"x":88,"y":261},
{"s":"v4","v":29.6,"x":73.2,"y":267},{"s":"v4","v":29.6,"x":79.6,"y":335},{"s":"v4","v":29.6,"x":88,"y":345},
{"s":"v5","v":29.8,"x":73.5,"y":383},{"s":"v5","v":29.8,"x":79.6,"y":441},{"s":"v5","v":29.8,"x":88,"y":455},
{"s":"v6","v":30,"x":75,"y":500},{"s":"v6","v":30,"x":80.3,"y":567},{"s":"v6b","v":30,"x":86,"y":625},{"s":"v6b","v":30,"x":88,"y":654},
{"s":"v7","v":30.2,"x":77.7,"y":751},{"s":"v7","v":30.2,"x":83.5,"y":858},{"s":"v7","v":30.2,"x":88,"y":920},
{"s":"v8","v":30.4,"x":78.4,"y":1013},{"s":"v8","v":30.4,"x":83.5,"y":1061},{"s":"v8","v":30.4,"x":88,"y":1080},
{"s":"v9","v":30.6,"x":78.4,"y":1129},{"s":"v9","v":30.6,"x":88,"y":1167},
{"s":"v10","v":30.8,"x":78.1,"y":1206},{"s":"v10","v":30.8,"x":88,"y":1255},
{"s":"v11","v":31,"x":78.6,"y":1299},{"s":"v11","v":31,"x":80.9,"y":1293},
{"s":"v12","v":31.2,"x":78.4,"y":1384},{"s":"v12","v":31.2,"x":82.8,"y":1400},{"s":"v12","v":31.2,"x":88,"y":1448},
{"s":"v13","v":31.4,"x":79.6,"y":1535},{"s":"v13","v":31.4,"x":83.5,"y":1526},{"s":"v13","v":31.4,"x":88,"y":1570},
{"s":"v14","v":31.6,"x":79.6,"y":1690},{"s":"v14","v":31.6,"x":88,"y":1694},
{"s":"v15","v":31.8,"x":80,"y":1855},{"s":"v15","v":31.8,"x":83.5,"y":1826},{"s":"v15","v":31.8,"x":88,"y":1822}
],
"w3":[
{"s":"a","v":31.6,"x":-36.9,"y":176},{"s":"a","v":31.6,"x":-34.6,"y":350},
{"s":"b","v":31.2,"x":-34.1,"y":400},{"s":"b","v":31.2,"x":-33.2,"y":1000},
{"s":"c","v":31,"x":-32.4,"y":1032},{"s":"c","v":31,"x":-31.1,"y":1361},
{"s":"d","v":31.2,"x":-30.9,"y":1438},{"s":"d","v":31.2,"x":-30.9,"y":1748},
{"s":"e","v":31.7,"x":-30.7,"y":1806},{"s":"e","v":31.7,"x":-29.8,"y":2000},
{"s":"f","v":31.4,"x":-10.6,"y":1429},{"s":"f","v":31.4,"x":-10.6,"y":1729},{"s":"f","v":31.4,"x":-11.9,"y":1903},
{"s":"g","v":31.2,"x":0.9,"y":1400},{"s":"g","v":31.2,"x":0.9,"y":1564},
{"s":"h","v":31.6,"x":0.9,"y":1739},{"s":"h","v":31.6,"x":0.9,"y":1900},
{"s":"i","v":31.4,"x":34.4,"y":974},{"s":"i","v":31.4,"x":34.4,"y":2000},
{"s":"j","v":29.6,"x":72,"y":132},{"s":"j","v":29.6,"x":72.2,"y":364},{"s":"j","v":29.6,"x":73.5,"y":393},
{"s":"k","v":30.2,"x":73.9,"y":490},{"s":"k","v":30.2,"x":73.9,"y":722},{"s":"k","v":30.2,"x":77.1,"y":732},{"s":"k","v":30.2,"x":77.7,"y":1206},
{"s":"l","v":31.2,"x":78.4,"y":1361},{"s":"l","v":31.2,"x":79,"y":1690},
{"s":"m","v":31.8,"x":79.1,"y":1690},{"s":"m","v":31.8,"x":79.6,"y":2000}
],
"t3":[{"t":"31.6","x":-7.8,"y":205},{"t":"32","x":23,"y":600},{"t":"31","x":-7.4,"y":916},{"t":"31.2","x":12.7,"y":1144},{"t":"31.6","x":12.7,"y":1744},{"t":"30","x":84.1,"y":596},{"t":"31","x":85,"y":1342}],
"p3":[{"t":"c","x":-98.8,"y":-198}],
"l4":[
{"s":"a","v":32,"x":-71.5,"y":2000},{"s":"a","v":32,"x":-65.8,"y":1884},{"s":"a","v":32,"x":-60.1,"y":1812},{"s":"a","v":32,"x":-55.7,"y":1855},{"s":"a","v":32,"x":-50,"y":2000},
{"s":"b","v":32,"x":53.5,"y":2000},{"s":"b","v":32,"x":60.5,"y":1903},{"s":"c","v":32,"x":67.4,"y":1922},{"s":"c","v":32,"x":71.8,"y":1981},{"s":"c","v":32,"x":75.6,"y":2000},
{"s":"d","v":31.8,"x":-71.8,"y":1802},{"s":"d","v":31.8,"x":-67,"y":1739},{"s":"d","v":31.8,"x":-60.1,"y":1665},{"s":"d","v":31.8,"x":-54.4,"y":1729},{"s":"d","v":31.8,"x":-48.1,"y":1874},{"s":"d","v":31.8,"x":-39.3,"y":1942},{"s":"d","v":31.8,"x":-31.7,"y":1893},{"s":"d","v":31.8,"x":-25.4,"y":1810},{"s":"d","v":31.8,"x":-16.5,"y":1810},{"s":"d","v":31.8,"x":-9,"y":1826},{"s":"d","v":31.8,"x":6.2,"y":1835},{"s":"d","v":31.8,"x":16.3,"y":1810},{"s":"d","v":31.8,"x":26.4,"y":1816},{"s":"d","v":31.8,"x":35.2,"y":1864},{"s":"d","v":31.8,"x":42.8,"y":1913},{"s":"d","v":31.8,"x":50.4,"y":1845},{"s":"d","v":31.8,"x":62.4,"y":1713},{"s":"d","v":31.8,"x":68.1,"y":1729},{"s":"d","v":31.8,"x":75.6,"y":1797},{"s":"d","v":31.8,"x":79.2,"y":1802},
{"s":"e","v":31.6,"x":-71.8,"y":1690},{"s":"e","v":31.6,"x":-65.8,"y":1574},{"s":"e","v":31.6,"x":-60.1,"y":1522},{"s":"e","v":31.6,"x":-54.4,"y":1574},{"s":"e","v":31.6,"x":-48.1,"y":1700},{"s":"e","v":31.6,"x":-40.5,"y":1787},{"s":"e","v":31.6,"x":-34.2,"y":1783},{"s":"e","v":31.6,"x":-25.4,"y":1710},{"s":"e","v":31.6,"x":-16.5,"y":1686},{"s":"e","v":31.6,"x":-6.4,"y":1696},{"s":"e","v":31.6,"x":6.2,"y":1706},{"s":"e","v":31.6,"x":18.8,"y":1680},{"s":"e","v":31.6,"x":26.4,"y":1694},{"s":"e","v":31.6,"x":34,"y":1739},{"s":"e","v":31.6,"x":40.9,"y":1764},{"s":"e","v":31.6,"x":49.1,"y":1719},{"s":"e","v":31.6,"x":55.4,"y":1632},{"s":"e","v":31.6,"x":62.4,"y":1578},{"s":"e","v":31.6,"x":69.3,"y":1613},{"s":"e","v":31.6,"x":74.4,"y":1671},{"s":"e","v":31.6,"x":79.2,"y":1680},
{"s":"f","v":31.4,"x":-72.1,"y":1613},{"s":"f","v":31.4,"x":-67,"y":1448},{"s":"f","v":31.4,"x":-60.5,"y":1367},{"s":"f","v":31.4,"x":-54.4,"y":1419},{"s":"f","v":31.4,"x":-48.1,"y":1555},{"s":"f","v":31.4,"x":-41.8,"y":1642},{"s":"f","v":31.4,"x":-35.5,"y":1665},{"s":"f","v":31.4,"x":-29.2,"y":1632},{"s":"f","v":31.4,"x":-20.3,"y":1560},{"s":"f","v":31.4,"x":-9,"y":1574},{"s":"f","v":31.4,"x":6.2,"y":1574},{"s":"f","v":31.4,"x":20.1,"y":1551},{"s":"f","v":31.4,"x":30.2,"y":1613},{"s":"f","v":31.4,"x":40.3,"y":1671},{"s":"f","v":31.4,"x":47.9,"y":1632},{"s":"f","v":31.4,"x":54.2,"y":1535},{"s":"f","v":31.4,"x":62.4,"y":1438},{"s":"f","v":31.4,"x":69.3,"y":1477},{"s":"f","v":31.4,"x":73.1,"y":1545},{"s":"f","v":31.4,"x":79.2,"y":1564},
{"s":"g","v":31.2,"x":-72.3,"y":1516},{"s":"g","v":31.2,"x":-68.3,"y":1322},{"s":"g","v":31.2,"x":-60.7,"y":1206},{"s":"g","v":31.2,"x":-55.7,"y":1245},{"s":"g","v":31.2,"x":-48.1,"y":1419},{"s":"g","v":31.2,"x":-40.5,"y":1526},{"s":"g","v":31.2,"x":-34.8,"y":1545},{"s":"g","v":31.2,"x":-27.9,"y":1506},{"s":"g","v":31.2,"x":-20.3,"y":1438},{"s":"g","v":31.2,"x":-12.8,"y":1429},
{"s":"h","v":31.2,"x":0.5,"y":1448},{"s":"h","v":31.2,"x":12.5,"y":1433},{"s":"h","v":31.2,"x":19.4,"y":1419},{"s":"h","v":31.2,"x":26.4,"y":1448},{"s":"h","v":31.2,"x":34,"y":1526},{"s":"h","v":31.2,"x":40.3,"y":1574},{"s":"h","v":31.2,"x":54.2,"y":1380},{"s":"h","v":31.2,"x":62.4,"y":1307},{"s":"h","v":31.2,"x":74.4,"y":1409},{"s":"h","v":31.2,"x":79.4,"y":1448},
{"s":"i","v":31,"x":-72.7,"y":1361},{"s":"i","v":31,"x":-69.6,"y":1206},{"s":"i","v":31,"x":-61.4,"y":1045},{"s":"i","v":31,"x":-56.9,"y":1090},{"s":"i","v":31,"x":-50.6,"y":1245},{"s":"i","v":31,"x":-43.1,"y":1371},{"s":"i","v":31,"x":-33,"y":1433},{"s":"i","v":31,"x":-27.9,"y":1390},{"s":"i","v":31,"x":-22.9,"y":1284},{"s":"i","v":31,"x":-16.5,"y":1251},{"s":"i","v":31,"x":-6.4,"y":1274},{"s":"i","v":31,"x":3.7,"y":1284},
{"s":"j","v":31,"x":11.9,"y":1284},{"s":"j","v":31,"x":18.8,"y":1274},{"s":"j","v":31,"x":26.4,"y":1322},{"s":"j","v":31,"x":31.4,"y":1419},{"s":"j","v":31,"x":40.3,"y":1481},{"s":"j","v":31,"x":49.1,"y":1400},{"s":"j","v":31,"x":56.7,"y":1264},{"s":"j","v":31,"x":62.4,"y":1177},{"s":"j","v":31,"x":71.8,"y":1322},{"s":"j","v":31,"x":83.2,"y":1380},{"s":"j","v":31,"x":89.3,"y":1342},
{"s":"k","v":30.8,"x":-73.1,"y":1090},{"s":"k","v":30.8,"x":-71.5,"y":974},{"s":"k","v":30.8,"x":-67,"y":877},{"s":"k","v":30.8,"x":-62.6,"y":815},{"s":"k","v":30.8,"x":-58.2,"y":838},{"s":"k","v":30.8,"x":-54.4,"y":935},{"s":"k","v":30.8,"x":-48.1,"y":1071},{"s":"k","v":30.8,"x":-45.6,"y":1090},{"s":"k","v":30.8,"x":-38,"y":1061},{"s":"k","v":30.8,"x":-27.9,"y":1100},{"s":"k","v":30.8,"x":-15.3,"y":1055},{"s":"k","v":30.8,"x":-2.7,"y":1080},{"s":"k","v":30.8,"x":13.8,"y":1113},{"s":"k","v":30.8,"x":22.6,"y":1158},{"s":"k","v":30.8,"x":31.4,"y":1303},{"s":"k","v":30.8,"x":39.6,"y":1377},{"s":"k","v":30.8,"x":47.9,"y":1303},{"s":"k","v":30.8,"x":55.4,"y":1148},{"s":"k","v":30.8,"x":64.3,"y":1042},{"s":"k","v":30.8,"x":71.8,"y":1206},{"s":"k","v":30.8,"x":81.9,"y":1264},{"s":"k","v":30.8,"x":89.3,"y":1255},
{"s":"l","v":30.6,"x":-68.9,"y":587},{"s":"l","v":30.6,"x":-71.5,"y":780},{"s":"l","v":30.6,"x":-73.1,"y":1129},
{"s":"m","v":30.6,"x":-68.3,"y":529},{"s":"m","v":30.6,"x":-65.8,"y":432},{"s":"m","v":30.6,"x":-62.6,"y":383},{"s":"m","v":30.6,"x":-59.5,"y":412},{"s":"m","v":30.6,"x":-56.9,"y":509},{"s":"m","v":30.6,"x":-54.4,"y":513},{"s":"m","v":30.6,"x":-56.3,"y":296},{"s":"m","v":30.6,"x":-58,"y":161},{"s":"m","v":30.6,"x":-57.6,"y":83},{"s":"m","v":30.6,"x":-51.9,"y":64},{"s":"m","v":30.6,"x":-44.3,"y":6},
{"s":"n","v":30.6,"x":27.7,"y":561},{"s":"n","v":30.6,"x":22.6,"y":494},{"s":"n","v":30.6,"x":18.8,"y":529},{"s":"n","v":30.6,"x":15.7,"y":732},{"s":"n","v":30.6,"x":22.6,"y":1013},{"s":"n","v":30.6,"x":30.2,"y":1148},{"s":"n","v":30.6,"x":38.4,"y":1222},{"s":"n","v":30.6,"x":49.1,"y":1109},{"s":"n","v":30.6,"x":56.7,"y":974},{"s":"n","v":30.6,"x":64.3,"y":887},{"s":"n","v":30.6,"x":71.8,"y":1071},{"s":"n","v":30.6,"x":79.4,"y":1148},{"s":"n","v":30.6,"x":89.3,"y":1162},
{"s":"o","v":30.8,"x":-47.5,"y":74},{"s":"o","v":30.8,"x":-51,"y":199},{"s":"o","v":30.8,"x":-48.1,"y":490},{"s":"o","v":30.8,"x":-44.9,"y":877},{"s":"o","v":30.8,"x":-41.8,"y":993},{"s":"o","v":30.8,"x":-34.8,"y":1013},{"s":"o","v":30.8,"x":-26.6,"y":964},{"s":"o","v":30.8,"x":-20.3,"y":858},{"s":"o","v":30.8,"x":-17.2,"y":722},{"s":"o","v":30.8,"x":-2.7,"y":620},{"s":"o","v":30.8,"x":7.2,"y":513},{"s":"o","v":30.8,"x":7.4,"y":354},{"s":"o","v":30.8,"x":14.4,"y":219},{"s":"o","v":30.8,"x":22.6,"y":354},{"s":"o","v":30.8,"x":28.9,"y":528},{"s":"o","v":30.8,"x":37.8,"y":650},{"s":"o","v":30.8,"x":44.1,"y":587},{"s":"o","v":30.8,"x":48.5,"y":354},{"s":"o","v":30.8,"x":50.4,"y":83},{"s":"o","v":30.8,"x":47.9,"y":15},
{"s":"p","v":31,"x":-45.6,"y":74},{"s":"p","v":31,"x":-48.1,"y":180},{"s":"p","v":31,"x":-45.6,"y":451},{"s":"p","v":31,"x":-41.8,"y":741},{"s":"p","v":31,"x":-34.2,"y":867},{"s":"p","v":31,"x":-27.9,"y":761},{"s":"p","v":31,"x":-21.6,"y":509},{"s":"p","v":31,"x":-17.8,"y":354},
{"s":"q","v":31,"x":-9,"y":306},{"s":"q","v":31,"x":-4.5,"y":267},{"s":"q","v":31,"x":-0.1,"y":339},{"s":"q","v":31,"x":1.4,"y":244},{"s":"q","v":31,"x":6.8,"y":277},{"s":"q","v":31,"x":15,"y":151},{"s":"q","v":31,"x":22.6,"y":277},{"s":"q","v":31,"x":27.7,"y":451},{"s":"q","v":31,"x":34,"y":558},{"s":"q","v":31,"x":41.5,"y":529},{"s":"q","v":31,"x":47.9,"y":296},{"s":"q","v":31,"x":48.1,"y":83},
{"s":"r","v":31.2,"x":-41.8,"y":15},{"s":"r","v":31.2,"x":-46.2,"y":141},{"s":"r","v":31.2,"x":-44.3,"y":393},{"s":"r","v":31.2,"x":-40.5,"y":606},{"s":"r","v":31.2,"x":-34.2,"y":712},{"s":"r","v":31.2,"x":-28.5,"y":625},{"s":"r","v":31.2,"x":-22.9,"y":354},{"s":"r","v":31.2,"x":-15.3,"y":277},{"s":"r","v":31.2,"x":-5.2,"y":238},{"s":"r","v":31.2,"x":2.4,"y":219},{"s":"r","v":31.2,"x":15,"y":103},{"s":"r","v":31.2,"x":22.6,"y":219},{"s":"r","v":31.2,"x":28.9,"y":354},{"s":"r","v":31.2,"x":35.9,"y":451},{"s":"r","v":31.2,"x":41.5,"y":412},{"s":"r","v":31.2,"x":46.8,"y":180},{"s":"r","v":31.2,"x":45.3,"y":64},{"s":"r","v":31.2,"x":40.3,"y":15},
{"s":"s","v":31.6,"x":-37.4,"y":15},{"s":"s","v":31.6,"x":-41.2,"y":132},{"s":"s","v":31.6,"x":-39.9,"y":373},{"s":"s","v":31.6,"x":-37.4,"y":490},{"s":"s","v":31.6,"x":-33.6,"y":529},{"s":"s","v":31.6,"x":-30.2,"y":513},{"s":"s","v":31.6,"x":-29.5,"y":345},{"s":"s","v":31.6,"x":-25.4,"y":296},{"s":"s","v":31.6,"x":-6.4,"y":209},{"s":"s","v":31.6,"x":3.7,"y":199},{"s":"s","v":31.6,"x":13.8,"y":83},{"s":"s","v":31.6,"x":22.6,"y":180},{"s":"s","v":31.6,"x":28.3,"y":248},{"s":"s","v":31.6,"x":34.6,"y":161},{"s":"s","v":31.6,"x":37.1,"y":6},
{"s":"t","v":31.8,"x":-34.2,"y":6},{"s":"t","v":31.8,"x":-33,"y":122},{"s":"t","v":31.8,"x":-26.6,"y":209},{"s":"t","v":31.8,"x":-9,"y":199},{"s":"t","v":31.8,"x":3.7,"y":180},{"s":"t","v":31.8,"x":12.5,"y":83},{"s":"t","v":31.8,"x":20.7,"y":54},{"s":"t","v":31.8,"x":25.1,"y":141},{"s":"t","v":31.8,"x":28.3,"y":170},{"s":"t","v":31.8,"x":33.3,"y":25},{"s":"t","v":31.8,"x":32.7,"y":6},
{"s":"u","v":31.8,"x":-19.1,"y":122},{"s":"u","v":31.8,"x":-15.3,"y":93},{"s":"u","v":31.8,"x":-12.1,"y":132},{"s":"u","v":31.8,"x":-19.1,"y":151},{"s":"u","v":31.8,"x":-19.1,"y":122},
{"s":"v1","v":31.8,"x":-30.4,"y":0},{"s":"v1","v":31.8,"x":-26.6,"y":74},{"s":"v1","v":31.8,"x":-19.1,"y":83},{"s":"v1","v":31.8,"x":-7.7,"y":74},{"s":"v1","v":31.8,"x":-6.4,"y":0},
{"s":"v2","v":31.6,"x":-29.2,"y":0},{"s":"v2","v":31.6,"x":-25.4,"y":64},{"s":"v2","v":31.6,"x":-19.1,"y":68},{"s":"v2","v":31.6,"x":-8.3,"y":54},{"s":"v2","v":31.6,"x":-7.1,"y":0},
{"s":"v3","v":31.2,"x":-27.9,"y":0},{"s":"v3","v":31.2,"x":-24.1,"y":48},{"s":"v3","v":31.2,"x":-19.1,"y":48},{"s":"v3","v":31.2,"x":-9,"y":35},{"s":"v3","v":31.2,"x":-7.7,"y":0},
{"s":"v4","v":30.6,"x":-26,"y":0},{"s":"v4","v":30.6,"x":-22.2,"y":35},{"s":"v4","v":30.6,"x":-10.2,"y":19},{"s":"v4","v":30.6,"x":-9,"y":0},
{"s":"v5","v":30,"x":-20.3,"y":0},{"s":"v5","v":30,"x":-19.1,"y":19},{"s":"v5","v":30,"x":-11.5,"y":15},{"s":"v5","v":30,"x":-10.2,"y":0},
{"s":"w1","v":32,"x":-7.7,"y":6},{"s":"w1","v":32,"x":-9.6,"y":122},{"s":"w1","v":32,"x":-5.2,"y":170},{"s":"w1","v":32,"x":-1.4,"y":6},
{"s":"w2","v":32,"x":2.4,"y":6},{"s":"w2","v":32,"x":6.2,"y":126},{"s":"w2","v":32,"x":10.6,"y":83},{"s":"w2","v":32,"x":9.3,"y":0},
{"s":"w3","v":31.8,"x":-5.2,"y":180},{"s":"w3","v":31.8,"x":-0.1,"y":137},{"s":"w3","v":31.8,"x":5.6,"y":190},{"s":"w3","v":31.8,"x":11.2,"y":122},{"s":"w3","v":31.8,"x":15.7,"y":74},
{"s":"w4","v":31.4,"x":-6.4,"y":190},{"s":"w4","v":31.4,"x":-0.1,"y":151},{"s":"w4","v":31.4,"x":5.6,"y":209},{"s":"w4","v":31.4,"x":12.5,"y":103},
{"s":"w5","v":31.8,"x":10,"y":0},{"s":"w5","v":31.8,"x":15.7,"y":83},
{"s":"w6","v":31.6,"x":25.1,"y":151},{"s":"w6","v":31.6,"x":27,"y":54},{"s":"w6","v":31.6,"x":31.4,"y":6},
{"s":"x1","v":30.6,"x":41.5,"y":6},{"s":"x1","v":30.6,"x":51.9,"y":122},{"s":"x1","v":30.6,"x":51,"y":432},
{"s":"x2","v":30.4,"x":43.4,"y":6},{"s":"x2","v":30.4,"x":52.9,"y":141},{"s":"x2","v":30.4,"x":51.9,"y":451},
{"s":"x3","v":30.2,"x":44.7,"y":6},{"s":"x3","v":30.2,"x":49.7,"y":199},{"s":"x3","v":30.2,"x":48.5,"y":587},{"s":"x3","v":30.2,"x":48.1,"y":722},{"s":"x3","v":30.2,"x":51.6,"y":790},{"s":"x3","v":30.2,"x":58,"y":664},{"s":"x3","v":30.2,"x":64.9,"y":554},{"s":"x3","v":30.2,"x":74.4,"y":819},{"s":"x3","v":30.2,"x":80.7,"y":916},{"s":"x3","v":30.2,"x":84.5,"y":842},{"s":"x3","v":30.2,"x":89.3,"y":925},
{"s":"x4","v":30.4,"x":34,"y":1071},{"s":"x4","v":30.4,"x":29.5,"y":974},{"s":"x4","v":30.4,"x":25.8,"y":732},{"s":"x4","v":30.4,"x":32.7,"y":712},{"s":"x4","v":30.4,"x":35.2,"y":829},{"s":"x4","v":30.4,"x":39.6,"y":858},{"s":"x4","v":30.4,"x":42.2,"y":732},
{"s":"x5","v":30.4,"x":48.5,"y":1003},{"s":"x5","v":30.4,"x":56.7,"y":858},{"s":"x5","v":30.4,"x":64.5,"y":736},{"s":"x5","v":30.4,"x":71.8,"y":954},{"s":"x5","v":30.4,"x":79.4,"y":1042},{"s":"x5","v":30.4,"x":89.3,"y":1071},
{"s":"x6","v":30,"x":51,"y":64},{"s":"x6","v":30,"x":53.5,"y":199},{"s":"x6","v":30,"x":53.5,"y":519},{"s":"x6","v":30,"x":55.4,"y":529},{"s":"x6","v":30,"x":60.5,"y":373},{"s":"x6","v":30,"x":64.9,"y":339},{"s":"x6","v":30,"x":71.8,"y":548},{"s":"x6","v":30,"x":79.4,"y":761},{"s":"x6","v":30,"x":84.5,"y":606},{"s":"x6","v":30,"x":89.3,"y":699},
{"s":"x7","v":29.6,"x":54.2,"y":64},{"s":"x7","v":29.6,"x":66.8,"y":103},{"s":"x7","v":29.6,"x":74.4,"y":287},{"s":"x7","v":29.6,"x":79.4,"y":219},{"s":"x7","v":29.6,"x":85.7,"y":432},{"s":"x7","v":29.6,"x":89.3,"y":490},
{"s":"x8","v":29.4,"x":58,"y":44},{"s":"x8","v":29.4,"x":68.1,"y":35},{"s":"x8","v":29.4,"x":78.2,"y":103},{"s":"x8","v":29.4,"x":83.2,"y":238},{"s":"x8","v":29.4,"x":89.3,"y":373},
{"s":"y1","v":29,"x":70.6,"y":6},{"s":"y1","v":29,"x":74.4,"y":83},{"s":"y1","v":29,"x":80.7,"y":35},{"s":"y1","v":29,"x":89.3,"y":180},
{"s":"y2","v":29.2,"x":71.2,"y":15},{"s":"y2","v":29.2,"x":75,"y":93},{"s":"y2","v":29.2,"x":80.7,"y":64},{"s":"y2","v":29.2,"x":89.3,"y":267},
{"s":"y3","v":29,"x":72.5,"y":6},{"s":"y3","v":29,"x":75.6,"y":54},{"s":"y3","v":29,"x":81.9,"y":25},{"s":"y3","v":29,"x":89.3,"y":151},
{"s":"y4","v":29.4,"x":46.6,"y":15},{"s":"y4","v":29.4,"x":51.6,"y":54},{"s":"y4","v":29.4,"x":58,"y":29},{"s":"y4","v":29.4,"x":63.6,"y":6},
{"s":"y5","v":29.6,"x":47.2,"y":6},{"s":"y5","v":29.6,"x":52.3,"y":29},{"s":"y5","v":29.6,"x":58,"y":15},
{"s":"z1","v":30.2,"x":-72.1,"y":0},{"s":"z1","v":30.2,"x":-67,"y":54},{"s":"z1","v":30.2,"x":-59.5,"y":74},{"s":"z1","v":30.2,"x":-51.9,"y":54},{"s":"z1","v":30.2,"x":-45.6,"y":6},
{"s":"z2","v":30,"x":-69.6,"y":0},{"s":"z2","v":30,"x":-64.5,"y":44},{"s":"z2","v":30,"x":-56.9,"y":54},{"s":"z2","v":30,"x":-50.6,"y":35},{"s":"z2","v":30,"x":-46.8,"y":0},
{"s":"z3","v":29.5,"x":-62.6,"y":0},{"s":"z3","v":29.5,"x":-59.5,"y":29},{"s":"z3","v":29.5,"x":-53.8,"y":25},{"s":"z3","v":29.5,"x":-50.6,"y":0}
],
"w4":[
{"s":"a","v":30.2,"x":-73.1,"y":0},{"s":"a","v":30.2,"x":-73.1,"y":1090},
{"s":"b","v":31.2,"x":-72.3,"y":1516},{"s":"b","v":31.2,"x":-71.8,"y":1690},
{"s":"c","v":31.8,"x":-71.8,"y":1690},{"s":"c","v":31.8,"x":-71.8,"y":1802},
{"s":"d","v":32,"x":-71.8,"y":1802},{"s":"d","v":32,"x":-71.5,"y":2000},
{"s":"e","v":31.3,"x":79.2,"y":1460},{"s":"e","v":31.3,"x":79.2,"y":1600},
{"s":"f","v":31.7,"x":79.2,"y":1600},{"s":"f","v":31.7,"x":79.2,"y":1800},
{"s":"g","v":32,"x":79.2,"y":1800},{"s":"g","v":32,"x":79.2,"y":2000},
{"s":"h","v":31.4,"x":89.1,"y":1438},{"s":"h","v":31.4,"x":89.1,"y":1555},
{"s":"i","v":31.7,"x":89.1,"y":1555},{"s":"i","v":31.7,"x":89.1,"y":2000}
],
"t4":[{"t":"31","x":-12.8,"y":329},{"t":"30.6","x":-65.2,"y":544},{"t":"30","x":61.1,"y":408},{"t":"30.6","x":17.6,"y":635},{"t":"30.4","x":41.3,"y":1061},{"t":"31","x":7.8,"y":1284},{"t":"31.2","x":-6.1,"y":1429},{"t":"32","x":63.6,"y":1888}],
"p4":[{"t":"d","x":-97,"y":-221}]
},
"concat":[
{"width":485,"height":344,"title":{"text":"Temperatur bei 55 °E","offset":-28},"resolve":{"axis":{"x":"independent","y":"independent"}},"layer":[
{"data":{"name":"g1"},"mark":{"type":"area","color":"#808080","orient":"vertical"},"encoding":{"detail":{"field":"s"},"order":{"value":null},"x":{"field":"x","type":"quantitative","scale":{"domain":[-78,90],"nice":false,"zero":false},"axis":{"orient":"bottom","values":[-40,-20,0,20,40],"tickSize":-6,"labelPadding":19,"labelExpr":"datum.value==-40?'40°S':datum.value==-20?'20°':datum.value==0?'0':datum.value==20?'20°':'40°N'"}},"y":{"field":"y","type":"quantitative","stack":null,"scale":{"domain":[0,2000],"reverse":true,"nice":false,"zero":false},"axis":{"orient":"left","values":[0,500,1000,1500,2000],"format":"d","tickSize":-6,"labelPadding":9}},"y2":{"datum":2000}}},
{"data":{"name":"l1"},"mark":{"type":"line","strokeWidth":2,"interpolate":"catmull-rom","clip":true},"encoding":{"detail":{"field":"s"},"order":{"value":null},"x":{"field":"x","type":"quantitative","axis":{"orient":"top","values":[-40,-20,0,20,40],"tickSize":-5,"labels":false}},"y":{"field":"y","type":"quantitative","axis":{"orient":"right","values":[500,1000,1500],"tickSize":-5,"labels":false}},"color":{"field":"v","type":"ordinal","legend":null,"scale":{"domain":[5,5.5,6,8,10,12,14,16,18,20,22,24,25,26,27,28,29,30,31,32],"range":["#0000e0","#0010f0","#0020ff","#1070ff","#10a8ff","#00e0ff","#20f0c0","#60f080","#a8f030","#ffff00","#ffc000","#ff8000","#ff6000","#ff4000","#ff2000","#ff0000","#e00000","#c00000","#a00000","#800000"]}}}},
{"data":{"name":"w1"},"mark":{"type":"line","strokeWidth":3,"clip":true},"encoding":{"detail":{"field":"s"},"order":{"value":null},"x":{"field":"x","type":"quantitative","axis":null},"y":{"field":"y","type":"quantitative","axis":null},"color":{"field":"v","type":"ordinal","legend":null}}},
{"data":{"name":"t1"},"mark":{"type":"text","fontSize":18,"fontWeight":"bold","color":"#111"},"encoding":{"x":{"field":"x","type":"quantitative","axis":null},"y":{"field":"y","type":"quantitative","axis":null},"text":{"field":"t"}}},
{"data":{"name":"p1"},"mark":{"type":"text","fontSize":32,"fontWeight":"bold","color":"#111"},"encoding":{"x":{"field":"x","type":"quantitative","axis":null},"y":{"field":"y","type":"quantitative","axis":null},"text":{"field":"t"}}}
]},
{"width":485,"height":344,"title":{"text":"Temperatur bei 175 °W","offset":-29},"resolve":{"axis":{"x":"independent","y":"independent"}},"layer":[
{"data":{"name":"g2"},"mark":{"type":"area","color":"#808080","orient":"vertical"},"encoding":{"detail":{"field":"s"},"order":{"value":null},"x":{"field":"x","type":"quantitative","scale":{"domain":[-78,90],"nice":false,"zero":false},"axis":{"orient":"bottom","values":[-40,-20,0,20,40],"tickSize":-6,"labelPadding":19,"labelExpr":"datum.value==-40?'40°S':datum.value==-20?'20°':datum.value==0?'0':datum.value==20?'20°':'40°N'"}},"y":{"field":"y","type":"quantitative","stack":null,"scale":{"domain":[0,2000],"reverse":true,"nice":false,"zero":false},"axis":{"orient":"left","values":[0,500,1000,1500,2000],"format":"d","tickSize":-6,"labelPadding":9}},"y2":{"datum":2000}}},
{"data":{"name":"l2"},"mark":{"type":"line","strokeWidth":2,"interpolate":"catmull-rom","clip":true},"encoding":{"detail":{"field":"s"},"order":{"value":null},"x":{"field":"x","type":"quantitative","axis":{"orient":"top","values":[-40,-20,0,20,40],"tickSize":-5,"labels":false}},"y":{"field":"y","type":"quantitative","axis":{"orient":"right","values":[500,1000,1500],"tickSize":-5,"labels":false}},"color":{"field":"v","type":"ordinal","legend":null,"scale":{"domain":[5,5.5,6,8,10,12,14,16,18,20,22,24,25,26,27,28,29,30,31,32],"range":["#0000e0","#0010f0","#0020ff","#1070ff","#10a8ff","#00e0ff","#20f0c0","#60f080","#a8f030","#ffff00","#ffc000","#ff8000","#ff6000","#ff4000","#ff2000","#ff0000","#e00000","#c00000","#a00000","#800000"]}}}},
{"data":{"name":"w2"},"mark":{"type":"line","strokeWidth":4.5,"clip":true},"encoding":{"detail":{"field":"s"},"order":{"value":null},"x":{"field":"x","type":"quantitative","axis":null},"y":{"field":"y","type":"quantitative","axis":null},"color":{"field":"v","type":"ordinal","legend":null}}},
{"data":{"name":"t2"},"mark":{"type":"text","fontSize":18,"fontWeight":"bold","color":"#111"},"encoding":{"x":{"field":"x","type":"quantitative","axis":null},"y":{"field":"y","type":"quantitative","axis":null},"text":{"field":"t"}}},
{"data":{"name":"p2"},"mark":{"type":"text","fontSize":32,"fontWeight":"bold","color":"#111"},"encoding":{"x":{"field":"x","type":"quantitative","axis":null},"y":{"field":"y","type":"quantitative","axis":null},"text":{"field":"t"}}}
]},
{"width":485,"height":344,"title":{"text":"Salzgehalt bei 55 °E","offset":-33},"resolve":{"axis":{"x":"independent","y":"independent"}},"layer":[
{"data":{"name":"g3"},"mark":{"type":"area","color":"#808080","orient":"vertical"},"encoding":{"detail":{"field":"s"},"order":{"value":null},"x":{"field":"x","type":"quantitative","scale":{"domain":[-78,90],"nice":false,"zero":false},"axis":{"orient":"bottom","values":[-40,-20,0,20,40],"tickSize":-6,"labelPadding":19,"labelExpr":"datum.value==-40?'40°S':datum.value==-20?'20°':datum.value==0?'0':datum.value==20?'20°':'40°N'"}},"y":{"field":"y","type":"quantitative","stack":null,"scale":{"domain":[0,2000],"reverse":true,"nice":false,"zero":false},"axis":{"orient":"left","values":[0,500,1000,1500,2000],"format":"d","tickSize":-6,"labelPadding":9}},"y2":{"datum":2000}}},
{"data":{"name":"l3"},"mark":{"type":"line","strokeWidth":2,"interpolate":"catmull-rom","clip":true},"encoding":{"detail":{"field":"s"},"order":{"value":null},"x":{"field":"x","type":"quantitative","axis":{"orient":"top","values":[-40,-20,0,20,40],"tickSize":-5,"labels":false,"grid":true,"gridDash":[1,4],"gridColor":"#222","gridWidth":1.3}},"y":{"field":"y","type":"quantitative","axis":{"orient":"right","values":[500,1000,1500],"tickSize":-5,"labels":false,"grid":true,"gridDash":[1,4],"gridColor":"#222","gridWidth":1.3}},"color":{"field":"v","type":"ordinal","legend":null,"scale":{"domain":[29,29.2,29.4,29.5,29.6,29.8,30,30.2,30.4,30.6,30.8,31,31.2,31.3,31.4,31.6,31.7,31.8,32,32.2],"range":["#0000a0","#0000d0","#0020f0","#0040ff","#0060ff","#0880ff","#10a0ff","#00d8ff","#20e8c8","#60f090","#80f060","#b0f030","#ffff00","#ffe000","#ffc000","#ff8800","#ff6800","#ff4800","#ff0000","#a80000"]}}}},
{"data":{"name":"w3"},"mark":{"type":"line","strokeWidth":3,"clip":true},"encoding":{"detail":{"field":"s"},"order":{"value":null},"x":{"field":"x","type":"quantitative","axis":null},"y":{"field":"y","type":"quantitative","axis":null},"color":{"field":"v","type":"ordinal","legend":null}}},
{"data":{"name":"t3"},"mark":{"type":"text","fontSize":18,"fontWeight":"bold","color":"#111"},"encoding":{"x":{"field":"x","type":"quantitative","axis":null},"y":{"field":"y","type":"quantitative","axis":null},"text":{"field":"t"}}},
{"data":{"name":"p3"},"mark":{"type":"text","fontSize":32,"fontWeight":"bold","color":"#111"},"encoding":{"x":{"field":"x","type":"quantitative","axis":null},"y":{"field":"y","type":"quantitative","axis":null},"text":{"field":"t"}}}
]},
{"width":485,"height":344,"title":{"text":"Salzgehalt bei 175 °W","offset":-37},"resolve":{"axis":{"x":"independent","y":"independent"}},"layer":[
{"data":{"name":"g4"},"mark":{"type":"area","color":"#808080","orient":"vertical"},"encoding":{"detail":{"field":"s"},"order":{"value":null},"x":{"field":"x","type":"quantitative","scale":{"domain":[-78,90],"nice":false,"zero":false},"axis":{"orient":"bottom","values":[-40,-20,0,20,40],"tickSize":-6,"labelPadding":19,"labelExpr":"datum.value==-40?'40°S':datum.value==-20?'20°':datum.value==0?'0':datum.value==20?'20°':'40°N'"}},"y":{"field":"y","type":"quantitative","stack":null,"scale":{"domain":[0,2000],"reverse":true,"nice":false,"zero":false},"axis":{"orient":"left","values":[0,500,1000,1500,2000],"format":"d","tickSize":-6,"labelPadding":9}},"y2":{"datum":2000}}},
{"data":{"name":"l4"},"mark":{"type":"line","strokeWidth":2,"interpolate":"catmull-rom","clip":true},"encoding":{"detail":{"field":"s"},"order":{"value":null},"x":{"field":"x","type":"quantitative","axis":{"orient":"top","values":[-40,-20,0,20,40],"tickSize":-5,"labels":false}},"y":{"field":"y","type":"quantitative","axis":{"orient":"right","values":[500,1000,1500],"tickSize":-5,"labels":false}},"color":{"field":"v","type":"ordinal","legend":null,"scale":{"domain":[29,29.2,29.4,29.5,29.6,29.8,30,30.2,30.4,30.6,30.8,31,31.2,31.3,31.4,31.6,31.7,31.8,32,32.2],"range":["#0000a0","#0000d0","#0020f0","#0040ff","#0060ff","#0880ff","#10a0ff","#00d8ff","#20e8c8","#60f090","#80f060","#b0f030","#ffff00","#ffe000","#ffc000","#ff8800","#ff6800","#ff4800","#ff0000","#a80000"]}}}},
{"data":{"name":"w4"},"mark":{"type":"line","strokeWidth":3,"clip":true},"encoding":{"detail":{"field":"s"},"order":{"value":null},"x":{"field":"x","type":"quantitative","axis":null},"y":{"field":"y","type":"quantitative","axis":null},"color":{"field":"v","type":"ordinal","legend":null}}},
{"data":{"name":"t4"},"mark":{"type":"text","fontSize":18,"fontWeight":"bold","color":"#111"},"encoding":{"x":{"field":"x","type":"quantitative","axis":null},"y":{"field":"y","type":"quantitative","axis":null},"text":{"field":"t"}}},
{"data":{"name":"p4"},"mark":{"type":"text","fontSize":32,"fontWeight":"bold","color":"#111"},"encoding":{"x":{"field":"x","type":"quantitative","axis":null},"y":{"field":"y","type":"quantitative","axis":null},"text":{"field":"t"}}}
]}
]}
